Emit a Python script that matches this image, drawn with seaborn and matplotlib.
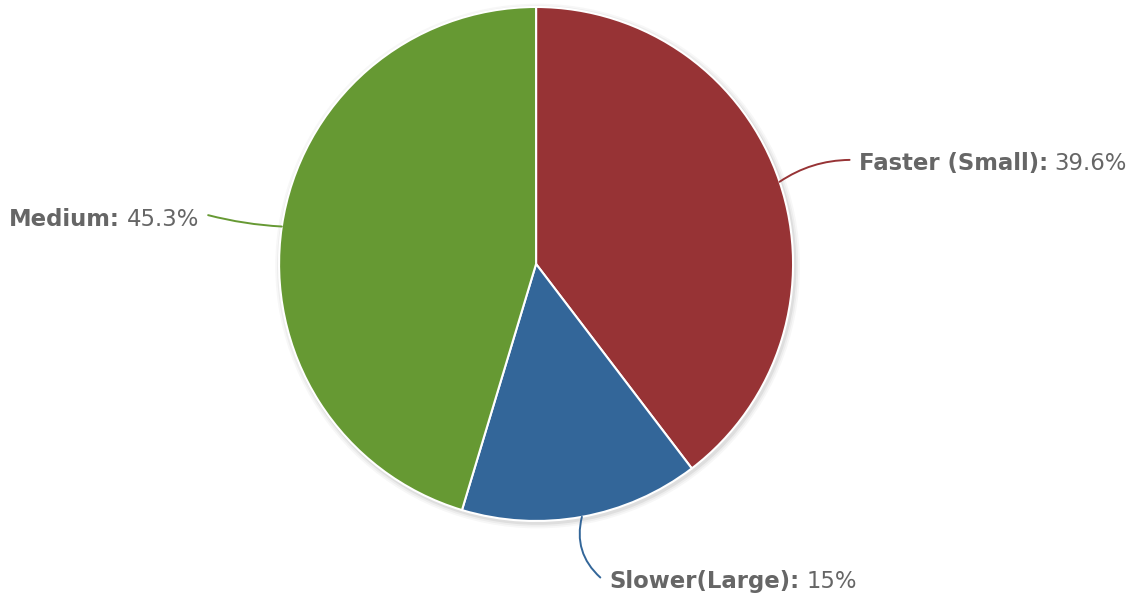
import numpy as np
import matplotlib
matplotlib.use("Agg")
import matplotlib.pyplot as plt
import seaborn as sns
from matplotlib.offsetbox import TextArea, HPacker, AnnotationBbox

labels = ["Faster (Small)", "Slower(Large)", "Medium"]
values = [39.6, 15, 45.3]
colors = ["#973335", "#336699", "#669933"]

sns.set_theme(style="white")
plt.rcParams["font.family"] = ["DejaVu Sans"]

fig = plt.figure(figsize=(11.39, 6.02), dpi=100)
ax = fig.add_axes([0.2450, 0.1346, 0.4513, 0.8538])

wedges, _ = ax.pie(values, colors=colors, startangle=90, counterclock=False, radius=1.0,
                   wedgeprops=dict(edgecolor="white", linewidth=1.5), normalize=True)
for w in wedges:
    w.set_zorder(2)
ax.set_xlim(-1, 1)
ax.set_ylim(-1, 1)
ax.set_aspect("equal")
ax.axis("off")

# soft shadow behind the pie
for i, a in enumerate([0.06, 0.04, 0.03]):
    ax.add_patch(plt.Circle((0.006, -0.008), 1.0 + 0.007 * (i + 1), color="black",
                            alpha=a, lw=0, zorder=0, clip_on=False))

# label layout per wedge: (connector end x, y, curve rad, side)
layout = [(1.22, 0.405, 0.15, "left"), (0.25, -1.22, -0.3, "left"), (-1.276, 0.19, 0.05, "right")]
total = sum(values)
start = 90.0
for name, v, c, (tx, ty, rad, side) in zip(labels, values, colors, layout):
    frac = v / total
    mid = np.deg2rad(start - frac * 360 / 2)
    start -= frac * 360
    ex, ey = np.cos(mid), np.sin(mid)
    ax.annotate("", xy=(ex, ey), xytext=(tx, ty), annotation_clip=False,
                arrowprops=dict(arrowstyle="-", color=c, lw=1.4,
                                connectionstyle=f"arc3,rad={rad}", shrinkA=0, shrinkB=0))
    t1 = TextArea(name + ":", textprops=dict(fontsize=16.4, color="#666666", fontweight="bold"))
    t2 = TextArea(f"{v:g}%", textprops=dict(fontsize=16.4, color="#666666"))
    box = HPacker(children=[t1, t2], align="baseline", pad=0, sep=5)
    dx = 0.035 if side == "left" else -0.035
    ab = AnnotationBbox(box, (tx + dx, ty - 0.015), frameon=False, annotation_clip=False,
                        box_alignment=(0, 0.5) if side == "left" else (1, 0.5))
    ax.add_artist(ab)

fig.savefig("out.png", dpi=100, facecolor="white")
